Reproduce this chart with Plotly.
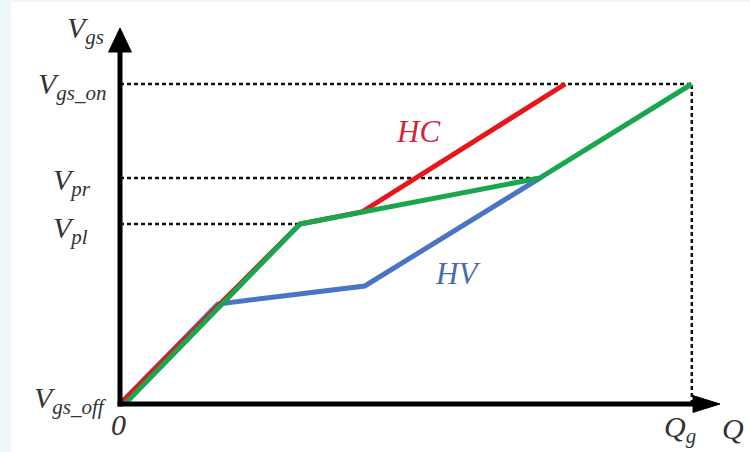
import plotly.graph_objects as go

# Gate-charge characteristic: Vgs versus Q for the three switching cases
hc_q = [0, 30, 40.3, 74.2]
hc_v = [0, 45, 48, 80]

hv_q = [0, 16.3, 40.8, 70]
hv_v = [0, 25, 29.5, 56.5]

mix_q = [0.8, 30, 70, 95.3]
mix_v = [0, 45, 56.5, 80]

# Reference levels on the axes
v_on = 80
v_pr = 56.5
v_pl = 45
q_g = 95.3

RED = "#E8151C"
BLUE = "#4A74C4"
GREEN = "#18A64E"
TXT = "#333333"
FONT = "'Liberation Serif', 'Times New Roman', serif"

fig = go.Figure()

# dotted guide lines
guides = [
    ([0, q_g], [v_on, v_on]),
    ([0, mix_q[2]], [v_pr, v_pr]),
    ([0, hc_q[1]], [v_pl, v_pl]),
    ([q_g, q_g], [0, v_on]),
]
for gx, gy in guides:
    fig.add_trace(go.Scatter(x=gx, y=gy, mode="lines",
                             line=dict(color="#111111", width=2.5, dash="4px,3px"),
                             hoverinfo="skip", showlegend=False))

fig.add_trace(go.Scatter(x=hv_q, y=hv_v, mode="lines", name="HV",
                         line=dict(color=BLUE, width=5), showlegend=False))
fig.add_trace(go.Scatter(x=hc_q, y=hc_v, mode="lines", name="HC",
                         line=dict(color=RED, width=5), showlegend=False))
fig.add_trace(go.Scatter(x=mix_q, y=mix_v, mode="lines", name="HC+HV",
                         line=dict(color=GREEN, width=5), showlegend=False))

shapes = [
    # faint frame strips
    dict(type="rect", xref="paper", yref="paper", x0=0, x1=11 / 750, y0=0, y1=1,
         fillcolor="#EEF7F7", line=dict(width=0), layer="below"),
    dict(type="rect", xref="paper", yref="paper", x0=0, x1=1, y0=1 - 2 / 452, y1=1,
         fillcolor="#EEF7F7", line=dict(width=0), layer="below"),
    # axes
    dict(type="line", x0=0, x1=0, y0=-0.6, y1=88, line=dict(color="black", width=5)),
    dict(type="line", x0=-0.4, x1=96, y0=0, y1=0, line=dict(color="black", width=5)),
    # arrow heads
    dict(type="path", path="M -1.9,88 L 1.9,88 L 0,94 Z",
         fillcolor="black", line=dict(color="black", width=1)),
    dict(type="path", path="M 95.5,-2.1 L 95.5,2.1 L 100,0 Z",
         fillcolor="black", line=dict(color="black", width=1)),
]

def lab(x, y, text, anchor="right", size=30, color=TXT):
    return dict(x=x, y=y, xref="x", yref="y", text=text, showarrow=False,
                xanchor=anchor, yanchor="middle",
                font=dict(family=FONT, size=size, color=color))

annotations = [
    lab(-2.3, 93.5, "<i>V<sub>gs</sub></i>"),
    lab(-1.8, 79.5, "<i>V<sub>gs_on</sub></i>"),
    lab(-4.5, 55.5, "<i>V<sub>pr</sub></i>"),
    lab(-5, 43.5, "<i>V<sub>pl</sub></i>"),
    lab(-1.8, 1, "<i>V<sub>gs_off</sub></i>"),
    lab(-0.2, -5, "<i>0</i>"  , anchor="center"),
    lab(93.3, -6.3, "<i>Q<sub>g</sub></i>", anchor="center"),
    lab(102.2, -6, "<i>Q</i>", anchor="center"),
    lab(49.7, 68.25, "<i>HC</i>", anchor="center", size=31, color="#D0283A"),
    lab(56.3, 32.75, "<i>HV</i>", anchor="center", size=31, color="#4A6AAE"),
]

fig.update_layout(
    width=750, height=452,
    margin=dict(l=0, r=0, t=0, b=0),
    paper_bgcolor="white", plot_bgcolor="white",
    xaxis=dict(range=[-20, 105], visible=False, fixedrange=True),
    yaxis=dict(range=[-12, 101], visible=False, fixedrange=True),
    shapes=shapes,
    annotations=annotations,
)

fig.write_html("out.html")
